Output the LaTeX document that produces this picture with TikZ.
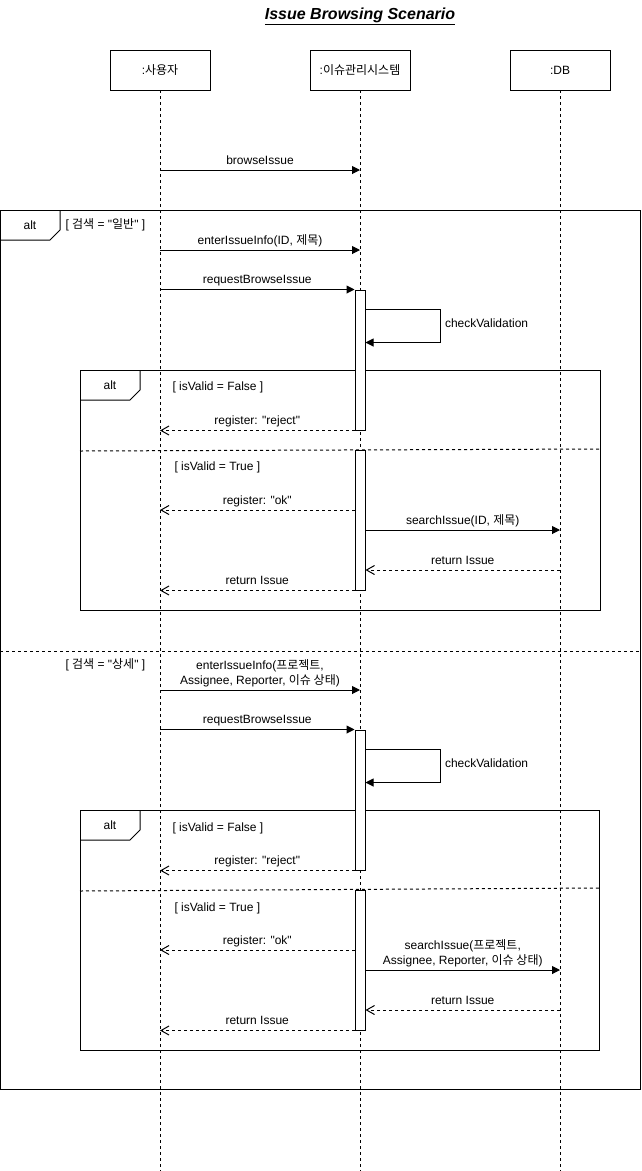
\documentclass[tikz,border=0pt]{standalone}
\usepackage{fontspec}
\setmainfont{Liberation Sans}[Ligatures=TeXOff]
\newfontfamily\kr{Noto Sans CJK KR}
\usetikzlibrary{arrows.meta,positioning}

\begin{document}
\begin{tikzpicture}[x=1pt,y=-1pt,line width=1pt,
  every node/.style={font=\fontsize{12}{15}\selectfont,inner sep=0pt},
  head/.style={draw,fill=white,minimum width=100pt,minimum height=40pt},
  life/.style={dash pattern=on 3pt off 3pt},
  actbar/.style={draw,fill=white,minimum width=10pt,minimum height=140pt},
  call/.style={-{Triangle[length=8pt,width=8pt]}},
  reply/.style={dash pattern=on 3pt off 3pt,-{Straight Barb[length=8pt,width=9pt]}},
  msg/.style={above=3pt,text depth=2.5pt,align=center},
  guard/.style={anchor=west},
  sep/.style={dash pattern=on 3pt off 3pt}]
\useasboundingbox (0,0) rectangle (641,1171);

% title
\node (title) at (360,16) {\fontsize{16}{19}\selectfont\bfseries\itshape\underline{Issue Browsing Scenario}};

% lifelines
\coordinate (userEnd) at (160,1171);
\coordinate (sysEnd) at (360,1171);
\coordinate (dbEnd) at (560,1171);
\draw[life] (160,90) -- (userEnd);
\draw[life] (360,90) -- (sysEnd);
\draw[life] (560,90) -- (dbEnd);
\node[head] (user) at (160,70) {:{\kr 사용자}};
\node[head] (sys) at (360,70) {:{\kr 이슈관리시스템}};
\node[head] (db) at (560,70) {:DB};

% outer alt
\draw (0,210) rectangle (640,1089);
\draw (0,240) -- (50,240) -- (60,230) -- (60,210);
\node (altA) at (30,225) {alt};
\node[guard] (gA) at (65,225) {[ {\kr 검색} = "{\kr 일반}" ]};
\draw[sep] (0,651) -- (640,651);
\node[guard] (gB) at (65,665) {[ {\kr 검색} = "{\kr 상세}" ]};

% inner alt 1
\draw (80,370) rectangle (600,610);
\draw (80,400) -- (130,400) -- (140,390) -- (140,370);
\node (altB) at (110,385) {alt};
\node[guard] (gC) at (172,387) {[ isValid = False ]};
\draw[sep] (80,451) -- (600,449);
\node[guard] (gD) at (174,467) {[ isValid = True ]};

% inner alt 2
\draw (80,810) rectangle (599,1050);
\draw (80,840) -- (130,840) -- (140,830) -- (140,810);
\node (altC) at (110,825) {alt};
\node[guard] (gE) at (172,828) {[ isValid = False ]};
\draw[sep] (80,891) -- (599,888);
\node[guard] (gF) at (174,908) {[ isValid = True ]};

% activations
\node[actbar] (act1) at (360,360) {};
\node[actbar] (act2) at (360,520) {};
\node[actbar] (act3) at (360,800) {};
\node[actbar] (act4) at (360,960) {};

% messages, first case
\draw[call] (user |- 0,170) -- node[msg] {browseIssue} (sys |- 0,170);
\draw[call] (user |- 0,250) -- node[msg] {enterIssueInfo(ID, {\kr 제목})} (sys |- 0,250);
\draw[call] (user |- act1.north) -- node[msg] {requestBrowseIssue} (act1.north west);
\draw[call] ([yshift=-20pt]act1.north east) -- ++(75,0)
  -- node[right=4pt,yshift=3pt] {checkValidation} ++(0,33)
  -- ([yshift=-53pt]act1.north east);
\draw[reply] (act1.south west) -- node[msg] {register: "reject"} (user |- act1.south);
\draw[reply] (act2.west |- 0,510) -- node[msg] {register: "ok"} (user |- 0,510);
\draw[call] (act2.east |- 0,530) -- node[msg] {searchIssue(ID, {\kr 제목})} (db |- 0,530);
\draw[reply] (db |- 0,570) -- node[msg] {return Issue} (act2.east |- 0,570);
\draw[reply] (act2.south west) -- node[msg] {return Issue} (user |- act2.south);

% messages, second case
\draw[call] (user |- 0,690) -- node[msg] {enterIssueInfo({\kr 프로젝트},\\Assignee, Reporter, {\kr 이슈 상태})} (sys |- 0,690);
\draw[call] (user |- act3.north) -- node[msg] {requestBrowseIssue} (act3.north west);
\draw[call] ([yshift=-20pt]act3.north east) -- ++(75,0)
  -- node[right=4pt,yshift=3pt] {checkValidation} ++(0,33)
  -- ([yshift=-53pt]act3.north east);
\draw[reply] (act3.south west) -- node[msg] {register: "reject"} (user |- act3.south);
\draw[reply] (act4.west |- 0,950) -- node[msg] {register: "ok"} (user |- 0,950);
\draw[call] (act4.east |- 0,970) -- node[msg] {searchIssue({\kr 프로젝트},\\Assignee, Reporter, {\kr 이슈 상태})} (db |- 0,970);
\draw[reply] (db |- 0,1010) -- node[msg] {return Issue} (act4.east |- 0,1010);
\draw[reply] (act4.south west) -- node[msg] {return Issue} (user |- act4.south);

\end{tikzpicture}
\end{document}
